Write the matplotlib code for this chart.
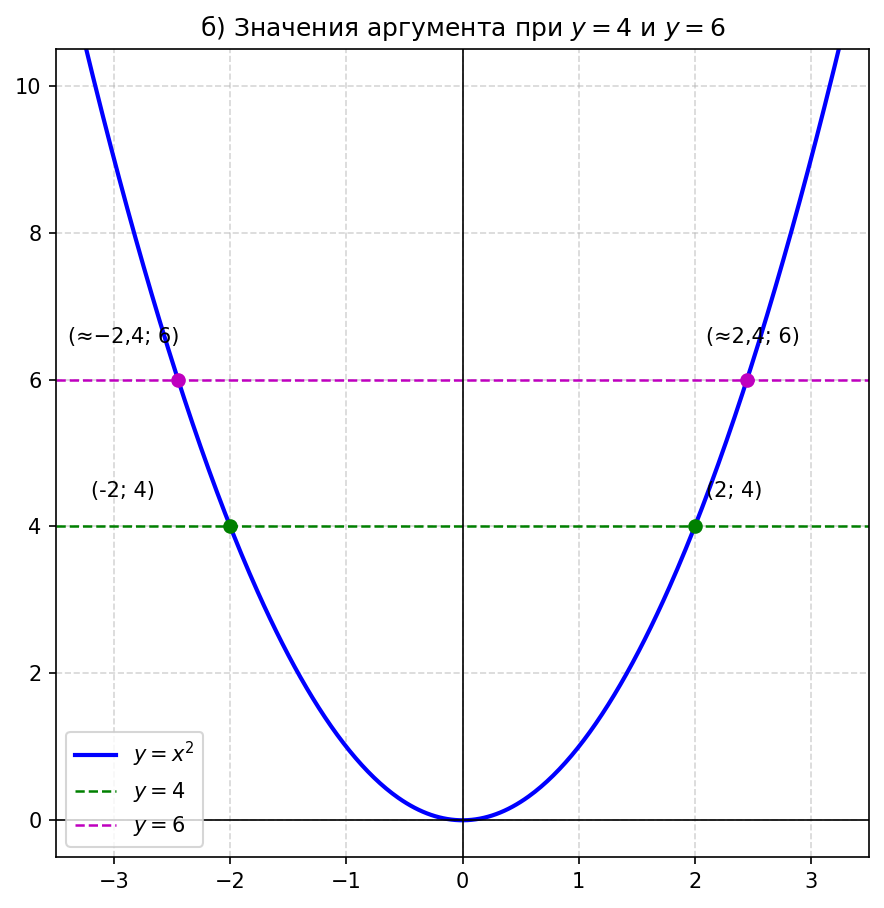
import numpy as np
import matplotlib
matplotlib.use("Agg")
import matplotlib.pyplot as plt

# Data
x_vals = np.linspace(-3.5, 3.5, 400)
y_levels = [4, 6]
pts4_x = [-2, 2]
pts6_x = [-np.sqrt(6), np.sqrt(6)]
labels4 = ["(-2; 4)", "(2; 4)"]
labels6 = ["(≈−2,4; 6)", "(≈2,4; 6)"]
label_pos4 = [(-3.2, 4.4), (2.1, 4.4)]
label_pos6 = [(-3.4, 6.5), (2.1, 6.5)]

fig = plt.figure(figsize=(884/150, 908/150), dpi=150)
ax = fig.add_axes([56/884, 1-857/908, (869-56)/884, (857-49)/908])

ax.plot(x_vals, x_vals**2, color='b', lw=2, label='$y = x^2$')
ax.axhline(y_levels[0], color='g', ls='--', lw=1.2, label='$y = 4$')
ax.axhline(y_levels[1], color='m', ls='--', lw=1.2, label='$y = 6$')
ax.axhline(0, color='k', lw=0.8)
ax.axvline(0, color='k', lw=0.8)

ax.plot(pts4_x, [4, 4], 'go', ms=6)
ax.plot(pts6_x, [6, 6], 'mo', ms=6)
for (tx, ty), lab in zip(label_pos4, labels4):
    ax.text(tx, ty, lab, fontsize=10)
for (tx, ty), lab in zip(label_pos6, labels6):
    ax.text(tx, ty, lab, fontsize=10)

ax.set_xlim(-3.5, 3.5)
ax.set_ylim(-0.5, 10.5)
ax.grid(True, ls='--', alpha=0.5)
ax.set_title('б) Значения аргумента при $y = 4$ и $y = 6$', fontsize=12)
ax.legend(loc='lower left')

fig.savefig('out.png', dpi=150)
